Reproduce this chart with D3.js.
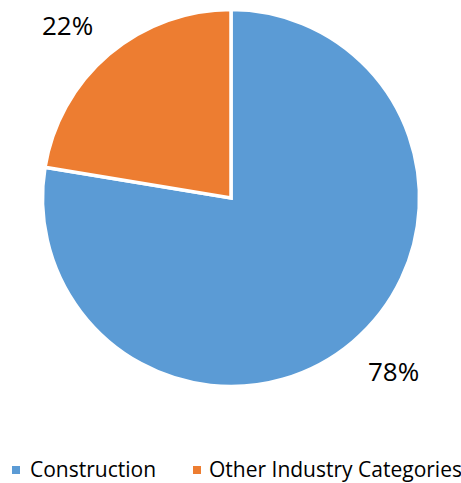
<!DOCTYPE html>
<html lang="en">
<head>
<meta charset="UTF-8">
<title>Industry share</title>
<script src="https://cdn.jsdelivr.net/npm/d3@7"></script>
<style>
  body { margin: 0; background: #fff; }
  text { font-family: "Open Sans", "Liberation Sans", sans-serif; fill: #000; }
</style>
</head>
<body>
<svg id="chart" width="461" height="483"></svg>
<script>
const categories = ['Construction', 'Other Industry Categories'];
const values = [77.6, 22.4];
const colors = ['#5b9bd5', '#ed7d31'];

const svg = d3.select('#chart');
const cx = 231, cy = 198, radius = 188.5;

const pie = d3.pie().sort(null).value(d => d.value);
const arcs = pie(categories.map((c, i) => ({ name: c, value: values[i] })));
const arc = d3.arc().innerRadius(0).outerRadius(radius);

const g = svg.append('g').attr('transform', `translate(${cx},${cy})`);

g.selectAll('path')
  .data(arcs)
  .join('path')
  .attr('d', arc)
  .attr('fill', (d, i) => colors[i])
  .attr('stroke', '#fff')
  .attr('stroke-width', 3.5)
  .attr('stroke-linejoin', 'miter');

// percentage labels outside the pie
const labelPos = [[137, 183], [-189, -163]];
g.selectAll('text.pct')
  .data(arcs)
  .join('text')
  .attr('class', 'pct')
  .attr('x', (d, i) => labelPos[i][0])
  .attr('y', (d, i) => labelPos[i][1])
  .attr('font-size', '26px')
  .text(d => Math.round(d.data.value) + '%');

// legend
const legendX = [12, 193];
const legend = svg.append('g').selectAll('g')
  .data(categories)
  .join('g')
  .attr('transform', (d, i) => `translate(${legendX[i]},466)`);

legend.append('rect')
  .attr('width', 8).attr('height', 8)
  .attr('fill', (d, i) => colors[i]);

legend.append('text')
  .attr('x', (d, i) => i === 0 ? 18 : 16)
  .attr('y', 11)
  .attr('font-size', '21px')
  .text(d => d);
</script>
</body>
</html>
